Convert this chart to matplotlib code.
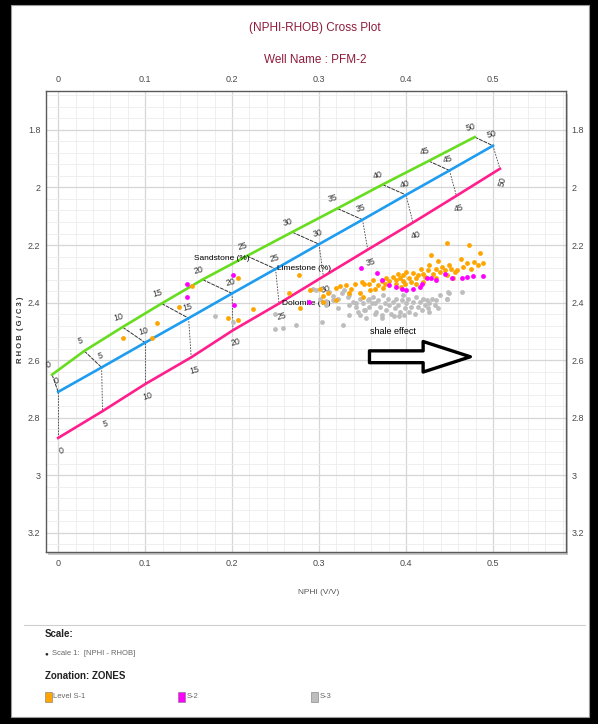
import matplotlib.pyplot as plt
from matplotlib.patches import Rectangle
from matplotlib.ticker import MultipleLocator

plt.rcParams['font.family'] = ['Liberation Sans Narrow', 'Liberation Sans', 'DejaVu Sans']

# lithology lines: porosity (%), NPHI (v/v), RHOB (g/cc)
por_pct = [0, 5, 10, 15, 20, 25, 30, 35, 40, 45, 50]
ss_nphi = [-0.007, 0.030, 0.074, 0.119, 0.166, 0.217, 0.269, 0.321, 0.373, 0.426, 0.479]
ss_rhob = [2.650, 2.568, 2.485, 2.403, 2.320, 2.238, 2.155, 2.073, 1.990, 1.908, 1.825]
ls_nphi = [0.0, 0.05, 0.10, 0.15, 0.20, 0.25, 0.30, 0.35, 0.40, 0.45, 0.50]
ls_rhob = [2.710, 2.625, 2.539, 2.454, 2.368, 2.283, 2.197, 2.112, 2.026, 1.941, 1.855]
dol_nphi = [0.0, 0.051, 0.100, 0.153, 0.201, 0.254, 0.305, 0.356, 0.408, 0.458, 0.508]
dol_rhob = [2.870, 2.777, 2.683, 2.590, 2.496, 2.403, 2.309, 2.216, 2.122, 2.029, 1.935]

# zone S-1 (orange)
s1_nphi = [0.224, 0.277, 0.266, 0.290, 0.301, 0.305, 0.310, 0.320, 0.324, 0.331, 0.337, 0.341,
           0.347, 0.349, 0.352, 0.358, 0.362, 0.364, 0.368, 0.372, 0.376, 0.377, 0.381, 0.385,
           0.388, 0.391, 0.393, 0.396, 0.397, 0.400, 0.404, 0.406, 0.408, 0.411, 0.414, 0.417,
           0.419, 0.422, 0.425, 0.427, 0.429, 0.431, 0.434, 0.437, 0.439, 0.441, 0.445, 0.447,
           0.450, 0.452, 0.456, 0.459, 0.463, 0.466, 0.470, 0.473, 0.475, 0.478, 0.483, 0.485,
           0.489, 0.304, 0.278, 0.320, 0.335, 0.351, 0.359, 0.389, 0.394, 0.374, 0.399, 0.412,
           0.420, 0.435, 0.447, 0.454, 0.074, 0.114, 0.108, 0.139, 0.154, 0.195, 0.207, 0.207]
s1_rhob = [2.423, 2.305, 2.365, 2.357, 2.351, 2.376, 2.368, 2.349, 2.343, 2.340, 2.351, 2.334,
           2.368, 2.328, 2.337, 2.334, 2.322, 2.351, 2.340, 2.326, 2.334, 2.316, 2.326, 2.311,
           2.322, 2.299, 2.316, 2.326, 2.305, 2.293, 2.314, 2.328, 2.296, 2.316, 2.305, 2.282,
           2.299, 2.311, 2.288, 2.270, 2.236, 2.299, 2.282, 2.256, 2.293, 2.276, 2.288, 2.192,
           2.270, 2.282, 2.293, 2.288, 2.249, 2.276, 2.264, 2.201, 2.282, 2.259, 2.270, 2.226,
           2.264, 2.397, 2.420, 2.391, 2.368, 2.380, 2.357, 2.334, 2.345, 2.349, 2.334, 2.334,
           2.328, 2.314, 2.305, 2.316, 2.522, 2.472, 2.524, 2.415, 2.342, 2.453, 2.461, 2.314]

# zone S-2 (magenta)
s2_nphi = [0.148, 0.148, 0.201, 0.202, 0.348, 0.367, 0.372, 0.381, 0.389, 0.395, 0.400, 0.408,
           0.416, 0.418, 0.424, 0.429, 0.435, 0.445, 0.453, 0.464, 0.470, 0.477, 0.488, 0.289]
s2_rhob = [2.337, 2.380, 2.303, 2.409, 2.279, 2.296, 2.322, 2.340, 2.345, 2.353, 2.357, 2.351,
           2.345, 2.334, 2.316, 2.314, 2.322, 2.299, 2.314, 2.316, 2.311, 2.307, 2.308, 2.397]

# zone S-3 (grey)
s3_nphi = [0.249, 0.258, 0.274, 0.303, 0.328, 0.293, 0.297, 0.301, 0.308, 0.312, 0.316, 0.322,
           0.326, 0.329, 0.333, 0.335, 0.339, 0.343, 0.347, 0.351, 0.352, 0.356, 0.358, 0.362,
           0.364, 0.366, 0.368, 0.370, 0.372, 0.374, 0.376, 0.377, 0.379, 0.381, 0.383, 0.385,
           0.387, 0.389, 0.391, 0.393, 0.395, 0.397, 0.399, 0.400, 0.402, 0.404, 0.406, 0.408,
           0.412, 0.414, 0.416, 0.418, 0.420, 0.422, 0.424, 0.425, 0.427, 0.430, 0.433, 0.435,
           0.437, 0.439, 0.447, 0.448, 0.335, 0.347, 0.354, 0.180, 0.201, 0.249, 0.464, 0.449,
           0.447, 0.316, 0.335, 0.343, 0.353, 0.358, 0.364, 0.308, 0.322, 0.345, 0.372, 0.386,
           0.398, 0.410, 0.426, 0.361, 0.392]
s3_rhob = [2.493, 2.487, 2.478, 2.467, 2.476, 2.351, 2.357, 2.386, 2.395, 2.363, 2.376, 2.386,
           2.368, 2.357, 2.380, 2.409, 2.397, 2.415, 2.386, 2.403, 2.426, 2.391, 2.415, 2.380,
           2.403, 2.432, 2.391, 2.415, 2.443, 2.374, 2.403, 2.426, 2.386, 2.409, 2.438, 2.397,
           2.420, 2.386, 2.409, 2.432, 2.391, 2.374, 2.420, 2.403, 2.386, 2.432, 2.415, 2.397,
           2.380, 2.415, 2.397, 2.426, 2.386, 2.409, 2.391, 2.420, 2.403, 2.386, 2.409, 2.391,
           2.420, 2.374, 2.386, 2.363, 2.443, 2.443, 2.455, 2.447, 2.467, 2.440, 2.363, 2.368,
           2.388, 2.392, 2.374, 2.403, 2.426, 2.386, 2.438, 2.409, 2.420, 2.432, 2.452, 2.447,
           2.444, 2.440, 2.432, 2.400, 2.448]

x_ticks = [0, 0.1, 0.2, 0.3, 0.4, 0.5]
x_labels = ['0', '0.1', '0.2', '0.3', '0.4', '0.5']
y_ticks = [1.8, 2.0, 2.2, 2.4, 2.6, 2.8, 3.0, 3.2]
y_labels = ['1.8', '2', '2.2', '2.4', '2.6', '2.8', '3', '3.2']

title_col = '#8e1b3c'
tick_col = '#4a4a4a'

fig = plt.figure(figsize=(5.98, 7.24), dpi=100, facecolor='black')
# white page inside black border
fig.patches.append(Rectangle((0.0184, 0.0097), 0.967, 0.9834, transform=fig.transFigure,
                             fc='white', ec='#9a9a9a', lw=0.8, zorder=-2))

ax_l, ax_b, ax_w, ax_h = 0.0769, 0.2376, 0.8696, 0.6367
# shadow of plot frame
fig.patches.append(Rectangle((ax_l + 0.004, ax_b - 0.004), ax_w, ax_h, transform=fig.transFigure,
                             fc='#c8c8c8', ec='none', zorder=-1))
ax = fig.add_axes([ax_l, ax_b, ax_w, ax_h])
ax.set_facecolor('white')

ax.set_xlim(-0.014, 0.584)
ax.set_ylim(3.266, 1.665)
ax.set_xticks(x_ticks)
ax.set_xticklabels(x_labels)
ax.set_yticks(y_ticks)
ax.set_yticklabels(y_labels)
ax.xaxis.set_minor_locator(MultipleLocator(0.02))
ax.yaxis.set_minor_locator(MultipleLocator(0.04))
ax.grid(which='major', color='#d6d6d6', lw=0.9)
ax.grid(which='minor', color='#ececec', lw=0.6)
ax.set_axisbelow(True)
ax.tick_params(which='both', length=0, labelsize=6.5, labelcolor=tick_col,
               top=True, right=True, labeltop=True, labelright=True)
ax.tick_params(axis='x', which='major', pad=5)
ax.tick_params(axis='y', which='major', pad=4)
for sp in ax.spines.values():
    sp.set_color('#5a5a5a')
    sp.set_linewidth(1.0)

# lithology lines
ax.plot(ss_nphi, ss_rhob, color='#66dd1e', lw=1.9, zorder=3)
ax.plot(ls_nphi, ls_rhob, color='#1e9cf0', lw=1.9, zorder=3)
ax.plot(dol_nphi, dol_rhob, color='#ff1e8c', lw=1.9, zorder=3)

# iso-porosity connectors
for i in range(len(por_pct)):
    ax.plot([ss_nphi[i], ls_nphi[i]], [ss_rhob[i], ls_rhob[i]], color='#333333',
            lw=0.7, ls=(0, (4, 1)), zorder=2)
    ax.plot([ls_nphi[i], dol_nphi[i]], [ls_rhob[i], dol_rhob[i]], color='#444444',
            lw=0.6, ls=(0, (2, 1.5)), zorder=2)

# porosity labels
for i, p in enumerate(por_pct):
    ax.annotate(str(p), (ss_nphi[i], ss_rhob[i]), xytext=(-3, 7), textcoords='offset points',
                fontsize=6.3, color='#333333', rotation=15, ha='center', va='center', zorder=4)
    ax.annotate(str(p), (ls_nphi[i], ls_rhob[i]), xytext=(-1, 8), textcoords='offset points',
                fontsize=6.3, color='#333333', rotation=15, ha='center', va='center', zorder=4)
    rot = 75 if p == 50 else 15
    ax.annotate(str(p), (dol_nphi[i], dol_rhob[i]), xytext=(2, -9), textcoords='offset points',
                fontsize=6.3, color='#333333', rotation=rot, ha='center', va='center', zorder=4)

ax.annotate('Sandstone (%)', (ss_nphi[5], ss_rhob[5]), xytext=(2, -2), textcoords='offset points',
            fontsize=6, ha='right', va='center', zorder=4)
ax.annotate('Limestone (%)', (ls_nphi[5], ls_rhob[5]), xytext=(1, 0), textcoords='offset points',
            fontsize=6, ha='left', va='center', zorder=4)
ax.annotate('Dolomite (%)', (dol_nphi[5], dol_rhob[5]), xytext=(2, 0), textcoords='offset points',
            fontsize=6, ha='left', va='center', zorder=4)

# zones
ax.scatter(s3_nphi, s3_rhob, s=12, color='#bdbdbd', linewidths=0, zorder=5)
ax.scatter(s1_nphi, s1_rhob, s=12, color='#ffa500', linewidths=0, zorder=6)
ax.scatter(s2_nphi, s2_rhob, s=12, color='#ff00ff', linewidths=0, zorder=7)

# shale effect arrow
ax.text(0.385, 2.50, 'shale effect', fontsize=6.5, ha='center', va='center', zorder=8)
ax.annotate('', xy=(0.474, 2.588), xytext=(0.358, 2.588),
            arrowprops=dict(arrowstyle='simple,head_length=3.4,head_width=2.2,tail_width=0.85',
                            fc='white', ec='black', lw=2.4, shrinkA=0, shrinkB=0), zorder=8)

# titles and axis labels
fig.text(0.527, 0.961, '(NPHI-RHOB) Cross Plot', color=title_col, fontsize=8.5,
         ha='center', va='center')
fig.text(0.527, 0.917, 'Well Name : PFM-2', color=title_col, fontsize=8.5,
         ha='center', va='center')
fig.text(0.532, 0.181, 'NPHI (V/V)', color='#555555', fontsize=6, ha='center', va='center')
fig.text(0.035, 0.545, 'R H O B  ( G / C 3 )', color='#333333', fontsize=5.5, fontweight='bold',
         rotation=90, ha='center', va='center')

# legend block
fig.add_artist(plt.Line2D([0.04, 0.978], [0.137, 0.137], color='#cfcfcf', lw=0.8,
                          transform=fig.transFigure))
fig.text(0.075, 0.124, 'Scale:', fontsize=7, fontweight='bold', color='#222222', va='center')
fig.text(0.075, 0.097, '\u25cf', fontsize=4.5, color='#222222', va='center')
fig.text(0.087, 0.097, 'Scale 1:  [NPHI - RHOB]', fontsize=5.5, color='#666666', va='center')
fig.text(0.075, 0.066, 'Zonation: ZONES', fontsize=7, fontweight='bold', color='#222222',
         va='center')
zone_names = ['Level S-1', 'S-2', 'S-3']
zone_cols = ['#ffa500', '#ff00ff', '#bdbdbd']
zone_x = [0.075, 0.298, 0.520]
for name, col, x0 in zip(zone_names, zone_cols, zone_x):
    fig.patches.append(Rectangle((x0, 0.031), 0.012, 0.013, transform=fig.transFigure,
                                 fc=col, ec='#777777', lw=0.4))
    fig.text(x0 + 0.014, 0.038, name, fontsize=5.5, color='#666666', va='center')

fig.savefig('out.png', dpi=100, facecolor=fig.get_facecolor())
